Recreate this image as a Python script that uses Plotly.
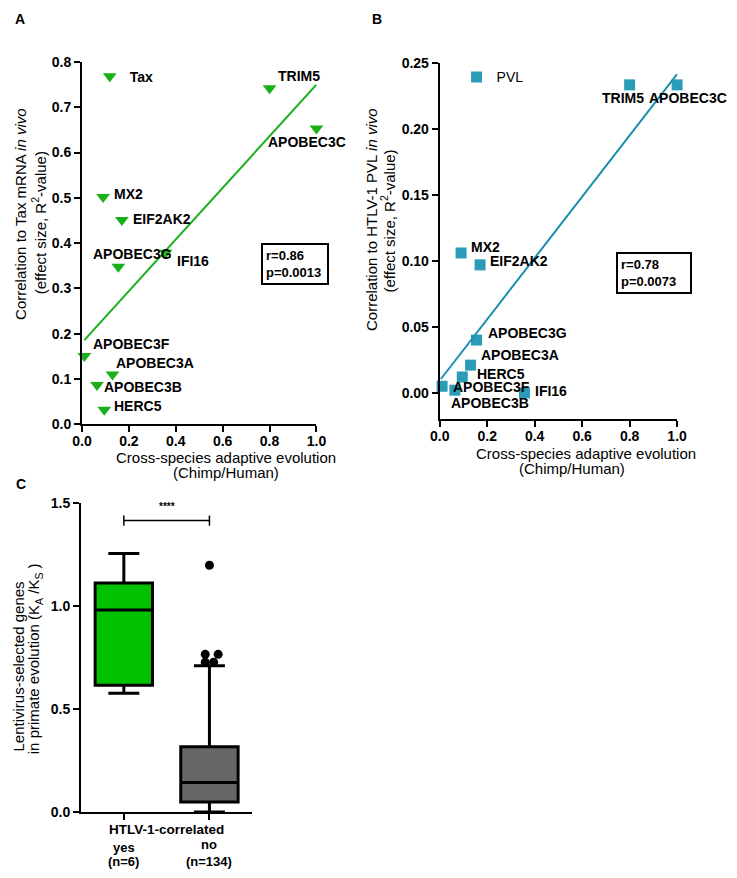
import plotly.graph_objects as go

W, H = 737, 878
FONT = "Liberation Sans"

# genes shared by panels A and B
genes = ["TRIM5", "APOBEC3C", "MX2", "EIF2AK2", "APOBEC3G", "IFI16",
         "APOBEC3F", "APOBEC3A", "APOBEC3B", "HERC5"]
# cross-species adaptive evolution (Chimp/Human)
evolution = [0.80, 1.00, 0.09, 0.17, 0.155, 0.357, 0.01, 0.13, 0.064, 0.095]
# panel A: correlation to Tax mRNA (R2)
tax_r2 = [0.742, 0.653, 0.502, 0.451, 0.348, 0.379, 0.151, 0.110, 0.087, 0.032]
fit_a_x = [0.01, 1.0]
fit_a_y = [0.186, 0.750]
# panel B: correlation to HTLV-1 PVL (R2)
pvl_r2 = [0.2334, 0.2334, 0.106, 0.097, 0.040, 0.0, 0.005, 0.021, 0.002, 0.012]
fit_b_x = [0.005, 1.0]
fit_b_y = [0.0105, 0.2415]

# panel C: Ka/Ks box summaries (0 = yes, 1 = no)
groups = ["yes", "no"]
group_n = ["(n=6)", "(n=134)"]
q1 = [0.615, 0.049]
median = [0.980, 0.144]
q3 = [1.111, 0.317]
low_whisker = [0.576, 0.0]
high_whisker = [1.254, 0.710]
outlier_x = [1.0, 0.951, 1.102, 0.951, 1.049]
outlier_y = [1.197, 0.765, 0.765, 0.727, 0.727]

# label placement (anchor, xshift px, yshift px)
offs_a = {"TRIM5": ("left", 6, 12), "APOBEC3C": ("center", -9, -13),
          "MX2": ("left", 9, 3), "EIF2AK2": ("left", 9, 1),
          "APOBEC3G": ("center", 14, 13), "IFI16": ("left", 9, -8),
          "APOBEC3F": ("left", 7, 12), "APOBEC3A": ("left", 2, 11),
          "APOBEC3B": ("left", 5, -2), "HERC5": ("left", 8, 4)}
offs_b = {"TRIM5": ("center", -7, -13), "APOBEC3C": ("center", 11, -13),
          "MX2": ("left", 8, 6), "EIF2AK2": ("left", 8, 4),
          "APOBEC3G": ("left", 9, 7), "IFI16": ("left", 9, 2),
          "APOBEC3F": ("left", 9, -1), "APOBEC3A": ("left", 8, 10),
          "APOBEC3B": ("left", -6, -13), "HERC5": ("left", 13, 3)}

GREEN = "#1AB01A"
TEAL = "#2B9CB8"


def xd(a, b):
    return [a / W, b / W]


def yd(top, bottom):
    return [1 - bottom / H, 1 - top / H]


fig = go.Figure()

# A
fig.add_trace(go.Scatter(x=evolution, y=tax_r2, mode="markers", name="<b>Tax</b>",
                         marker=dict(symbol="triangle-down", size=12, color=GREEN),
                         cliponaxis=False, xaxis="x", yaxis="y", legend="legend"))
fig.add_trace(go.Scatter(x=fit_a_x, y=fit_a_y, mode="lines", showlegend=False,
                         line=dict(color=GREEN, width=2), xaxis="x", yaxis="y"))
# B
fig.add_trace(go.Scatter(x=evolution, y=pvl_r2, mode="markers", name="PVL",
                         marker=dict(symbol="square", size=11, color=TEAL),
                         cliponaxis=False, xaxis="x2", yaxis="y2", legend="legend2"))
fig.add_trace(go.Scatter(x=fit_b_x, y=fit_b_y, mode="lines", showlegend=False,
                         line=dict(color="#1A8EAD", width=2), xaxis="x2", yaxis="y2"))
# C
for i, col in enumerate(["#00C000", "#666666"]):
    fig.add_trace(go.Box(x=[i], q1=[q1[i]], median=[median[i]], q3=[q3[i]],
                         lowerfence=[low_whisker[i]], upperfence=[high_whisker[i]],
                         fillcolor=col, line=dict(color="black", width=3),
                         width=0.67, whiskerwidth=0.54, boxpoints=False,
                         showlegend=False, xaxis="x3", yaxis="y3"))
fig.add_trace(go.Scatter(x=outlier_x, y=outlier_y, mode="markers",
                         marker=dict(color="black", size=9), showlegend=False,
                         cliponaxis=False, xaxis="x3", yaxis="y3"))
sig_y = 1.414
fig.add_trace(go.Scatter(x=[0, 0, None, 0, 1, None, 1, 1],
                         y=[sig_y - 0.025, sig_y + 0.025, None, sig_y, sig_y, None,
                            sig_y - 0.025, sig_y + 0.025],
                         mode="lines", line=dict(color="black", width=1.5),
                         showlegend=False, cliponaxis=False, xaxis="x3", yaxis="y3"))

axis_style = dict(showline=True, linecolor="black", linewidth=2, ticks="outside",
                  ticklen=6, tickwidth=2, tickcolor="black", showgrid=False,
                  zeroline=False,
                  tickfont=dict(family=FONT, size=14, color="black", weight="bold"))

fig.update_layout(
    width=W, height=H, margin=dict(l=0, r=0, t=0, b=0),
    paper_bgcolor="white", plot_bgcolor="white",
    font=dict(family=FONT, color="black"),
    xaxis=dict(domain=xd(74, 315), range=[0, 1], tickvals=[0, 0.2, 0.4, 0.6, 0.8, 1.0],
               tickformat=".1f", anchor="y", ticklabelstandoff=-3, **axis_style),
    yaxis=dict(domain=yd(55, 424), range=[0, 0.8], dtick=0.1, tickformat=".1f",
               anchor="x", **axis_style),
    xaxis2=dict(domain=xd(441.7, 685.7), range=[0, 1], tickvals=[0, 0.2, 0.4, 0.6, 0.8, 1.0],
                tickformat=".1f", anchor="y2", ticklabelstandoff=-3, **axis_style),
    yaxis2=dict(domain=yd(56, 419), range=[-0.0201, 0.25],
                tickvals=[0, 0.05, 0.10, 0.15, 0.20, 0.25], tickformat=".2f",
                anchor="x2", **axis_style),
    xaxis3=dict(domain=xd(73, 249), range=[-0.5, 1.5], tickvals=[0, 1],
                showticklabels=False, anchor="y3", **axis_style),
    yaxis3=dict(domain=yd(504, 819), range=[0, 1.5], tickvals=[0, 0.5, 1.0, 1.5],
                tickformat=".1f", anchor="x3", **axis_style),
    legend=dict(x=(102 - 20) / W, y=1 - 70 / H, xanchor="left", yanchor="middle",
                font=dict(family=FONT, size=14), bgcolor="rgba(0,0,0,0)"),
    legend2=dict(x=(479 - 20) / W, y=1 - 70.7 / H, xanchor="left", yanchor="middle",
                 font=dict(family=FONT, size=14), bgcolor="rgba(0,0,0,0)"),
    showlegend=True,
)

ann = []
lab_font = dict(family=FONT, size=14, color="black")
for g, x, y in zip(genes, evolution, tax_r2):
    anc, dx, dy = offs_a[g]
    ann.append(dict(x=x, y=y, xref="x", yref="y", text="<b>%s</b>" % g, showarrow=False,
                    xanchor=anc, yanchor="middle", xshift=dx, yshift=dy, font=lab_font))
for g, x, y in zip(genes, evolution, pvl_r2):
    anc, dx, dy = offs_b[g]
    ann.append(dict(x=x, y=y, xref="x2", yref="y2", text="<b>%s</b>" % g, showarrow=False,
                    xanchor=anc, yanchor="middle", xshift=dx, yshift=dy, font=lab_font))


def paper_text(text, px, py, size=15, angle=0, anchor="center"):
    return dict(x=px / W, y=1 - py / H, xref="paper", yref="paper", text=text,
                showarrow=False, textangle=angle, xanchor=anchor, yanchor="middle",
                font=dict(family=FONT, size=size, color="black"))


# panel letters
ann.append(paper_text("<b>A</b>", 10, 11, 14))
ann.append(paper_text("<b>B</b>", 377, 11, 14))
ann.append(paper_text("<b>C</b>", 11, 485, 14))

# axis titles
ann.append(paper_text("Correlation to Tax mRNA <i>in vivo</i>", 10, 210, 15, -90))
ann.append(paper_text("(effect size, R<sup>2</sup>-value)", 29, 219, 15, -90))
ann.append(paper_text("Cross-species adaptive evolution", 222, 458, 15))
ann.append(paper_text("(Chimp/Human)", 222, 473, 15))
ann.append(paper_text("Correlation to HTLV-1 PVL <i>in vivo</i>", 371, 215, 15, -90))
ann.append(paper_text("(effect size, R<sup>2</sup>-value)", 388, 217, 15, -90))
ann.append(paper_text("Cross-species adaptive evolution", 592, 454, 15))
ann.append(paper_text("(Chimp/Human)", 578, 469, 15))
ann.append(paper_text("Lentivirus-selected genes", 9, 671, 15, -90))
ann.append(paper_text("in primate evolution (K<sub>A</sub> /K<sub>S</sub> )", 26, 663, 15, -90))

# stats boxes
for txt, cx, cy, w in [("<b>r=0.86<br>p=0.0013</b>", 293, 261, 58),
                       ("<b>r=0.78<br>p=0.0073</b>", 662, 270, 66)]:
    a = paper_text(txt, cx, cy, 13)
    a.update(align="left", bordercolor="black", borderwidth=2, borderpad=3, width=w)
    ann.append(a)

# panel C category labels and significance stars
ann.append(dict(x=0.5, y=1.48, xref="x3", yref="y3", text="<b>****</b>", showarrow=False,
                font=dict(family=FONT, size=10, color="black")))
ann.append(paper_text("<b>HTLV-1-correlated</b>", 161, 837, 13.5))
for i, (g, n) in enumerate(zip(groups, group_n)):
    ann.append(dict(x=i, y=1 - (855 - 3 * i) / H, xref="x3", yref="paper",
                    text="<b>%s</b>" % g, showarrow=False, yanchor="middle",
                    font=dict(family=FONT, size=13, color="black")))
    ann.append(dict(x=i, y=1 - 869 / H, xref="x3", yref="paper", text="<b>%s</b>" % n,
                    showarrow=False, yanchor="middle",
                    font=dict(family=FONT, size=13, color="black")))

fig.update_layout(annotations=ann)
fig.write_html("out.html", config={"displayModeBar": False},
               post_script="document.body.style.margin='0';")
